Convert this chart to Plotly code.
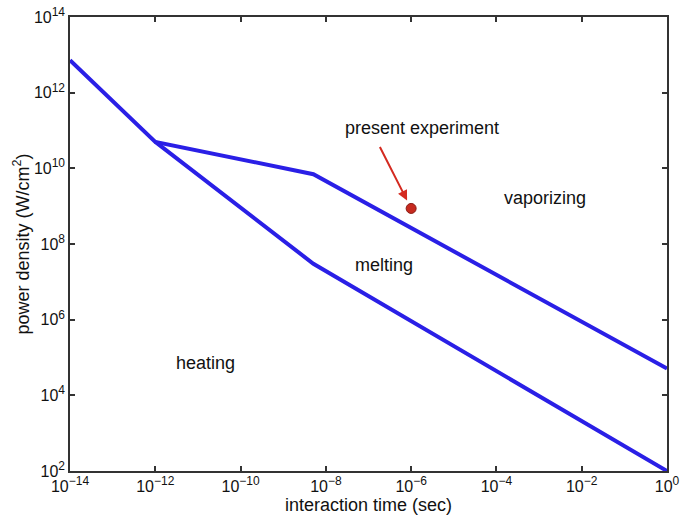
import math
import plotly.graph_objects as go

# Boundary lines (interaction time in s, power density in W/cm^2)
vapor_x = [1e-14, 1e-12, 5.1e-9, 1.0]
vapor_y = [7.2e12, 5.0e10, 7.0e9, 5.1e4]
melt_x = [1e-12, 5.1e-9, 1.0]
melt_y = [5.0e10, 3.0e7, 1.0e2]
exp_x = [1e-6]
exp_y = [8.7e8]

x_tickvals = [1e-14, 1e-12, 1e-10, 1e-8, 1e-6, 1e-4, 1e-2, 1]
x_exponents = ["−14", "−12", "−10", "−8", "−6", "−4", "−2", "0"]
y_tickvals = [1e2, 1e4, 1e6, 1e8, 1e10, 1e12, 1e14]
y_exponents = ["2", "4", "6", "8", "10", "12", "14"]

region_labels = ["heating", "melting", "vaporizing"]
region_x = [1.5e-11, 2.3e-7, 1.4e-3]
region_y = [7e4, 2.8e7, 1.6e9]
note_text = "present experiment"
note_x = 1.8e-6
note_y = 1.15e11


def sup(e):
    return "10<sup><span style='font-size:12px'>" + e + "</span></sup>"


blue = "#2a1fe6"
font = "Liberation Sans, Arial, sans-serif"
fig = go.Figure()
fig.add_trace(go.Scatter(x=vapor_x, y=vapor_y, mode="lines",
                         line=dict(color=blue, width=4), showlegend=False))
fig.add_trace(go.Scatter(x=melt_x, y=melt_y, mode="lines",
                         line=dict(color=blue, width=4), showlegend=False))
fig.add_trace(go.Scatter(x=exp_x, y=exp_y, mode="markers",
                         marker=dict(color="#c62a1f", size=10,
                                     line=dict(color="#8a1a12", width=1)),
                         showlegend=False))

for t, xx, yy in zip(region_labels, region_x, region_y):
    fig.add_annotation(x=math.log10(xx), y=math.log10(yy), xref="x", yref="y", text=t,
                       showarrow=False, font=dict(family=font, size=18, color="#111"))

fig.add_annotation(x=math.log10(exp_x[0]), y=math.log10(exp_y[0]), xref="x", yref="y",
                   axref="pixel", ayref="pixel", ax=-32, ay=-63, text="", showarrow=True,
                   arrowhead=2, arrowsize=1, arrowwidth=2, arrowcolor="#d42a20", standoff=9)
fig.add_annotation(x=math.log10(note_x), y=math.log10(note_y), xref="x", yref="y",
                   text=note_text, showarrow=False,
                   font=dict(family=font, size=18, color="#111"))

axis_common = dict(type="log", showgrid=False, zeroline=False, showline=True,
                   linecolor="#333", linewidth=1.5, mirror="ticks", ticks="inside",
                   ticklen=5, tickcolor="#333", tickwidth=1.5, automargin=False,
                   ticklabeloverflow="allow",
                   tickfont=dict(family=font, size=16, color="#111"))
fig.update_xaxes(**axis_common, range=[-14, 0], tickvals=x_tickvals,
                 ticktext=[sup(e) for e in x_exponents],
                 title=dict(text="interaction time (sec)", standoff=0,
                            font=dict(family=font, size=18, color="#111")))
fig.update_yaxes(**axis_common, range=[2, 14], tickvals=y_tickvals,
                 ticktext=[sup(e) for e in y_exponents],
                 title=dict(text="power density (W/cm<sup>2</sup>)", standoff=0,
                            font=dict(family=font, size=18, color="#111")))
fig.update_layout(width=680, height=518, margin=dict(l=70, r=13, t=17, b=47),
                  plot_bgcolor="white", paper_bgcolor="white")
fig.write_html("out.html", config={"displayModeBar": False},
               post_script="document.body.style.margin='0';document.body.style.overflow='hidden';")
